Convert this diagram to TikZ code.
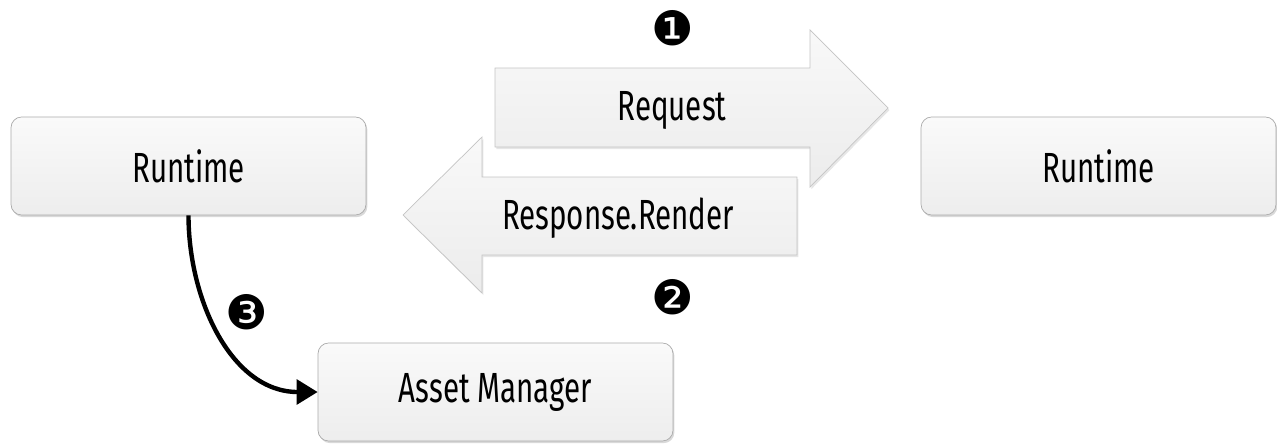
\documentclass[tikz,border=0pt]{standalone}
\usepackage{fontspec}
\setmainfont{Fira Sans}[FakeStretch=0.7]
\newfontfamily\numfont{DejaVu Sans}
\usetikzlibrary{arrows.meta,shadows}
\definecolor{borda}{HTML}{ABABAB}
\definecolor{seta}{HTML}{C4C4C4}
\tikzset{
  caixa/.style={draw=borda, rounded corners=6pt, top color=gray!4, bottom color=gray!14,
    minimum width=7.1cm, minimum height=1.96cm, font=\fontsize{24}{25}\selectfont,
    drop shadow={opacity=0.3, shadow xshift=0.8pt, shadow yshift=-1.2pt}},
  setagrossa/.style={draw=seta, top color=gray!5, bottom color=gray!15,
    drop shadow={opacity=0.2, shadow xshift=0.8pt, shadow yshift=-1.2pt}},
  rotulo/.style={font=\fontsize{24}{25}\selectfont},
  passo/.style={font=\numfont\fontsize{27}{28}\selectfont}
}
\begin{document}
\begin{tikzpicture}[x=0.02cm,y=-0.02cm] %unidades em pixels
  \useasboundingbox (0,0) rectangle (1277,443);
  %Caixas
  \node[caixa] (runtimeA) at (188.5,166) {Runtime};
  \node[caixa] (runtimeB) at (1098.5,166) {Runtime};
  \node[caixa] (assetmgr) at (495.5,392) {Asset Manager};
  %Setas largas
  \draw[setagrossa] (495,68) -- (810,68) -- (810,30) -- (888,108) -- (810,187) -- (810,147) -- (495,147) -- cycle;
  \draw[setagrossa] (797,177) -- (482,177) -- (482,137) -- (403,215) -- (482,293) -- (482,255) -- (797,255) -- cycle;
  \node[rotulo] (request) at (672,110) {Request};
  \node[rotulo] (response) at (618,218) {Response.Render};
  %Passos
  \node[passo] (um) at (673,28) {❶};
  \node[passo] (dois) at (673,297) {❷};
  \node[passo] (tres) at (247,312) {❸};
  %Seta curva
  \draw[line width=2.5pt, -{Triangle[length=12pt,width=14pt]}] (runtimeA.south) to[out=-90,in=180] (assetmgr.west);
\end{tikzpicture}
\end{document}
